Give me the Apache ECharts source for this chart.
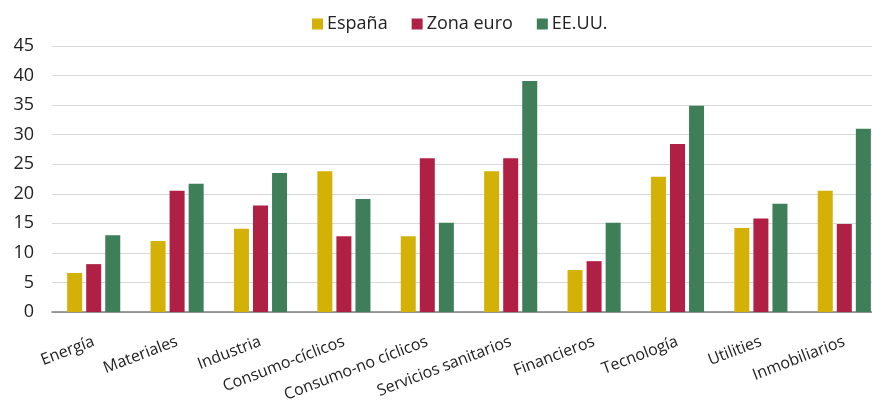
<!DOCTYPE html>
<html>
<head>
<meta charset="utf-8">
<script src="https://cdn.jsdelivr.net/npm/echarts@6/dist/echarts.min.js"></script>
<style>
  html, body { margin: 0; padding: 0; background: #fff; }
  #chart { width: 872px; height: 410px; }
</style>
</head>
<body>
<div id="chart"></div>
<script>
var categories = ['Energía', 'Materiales', 'Industria', 'Consumo-cíclicos', 'Consumo-no cíclicos',
  'Servicios sanitarios', 'Financieros', 'Tecnología', 'Utilities', 'Inmobiliarios']
var espana = [6.6, 12.0, 14.1, 23.8, 12.8, 23.8, 7.1, 22.9, 14.2, 20.5]
var zonaEuro = [8.1, 20.5, 18.0, 12.8, 26.0, 26.0, 8.6, 28.4, 15.8, 14.9]
var eeuu = [13.0, 21.7, 23.5, 19.1, 15.1, 39.1, 15.1, 34.9, 18.3, 31.0]

var font = '"Open Sans", "Noto Sans", sans-serif'
var chart = echarts.init(document.getElementById('chart'))

function barSeries(name, data, color) {
  return {
    name: name,
    type: 'bar',
    data: data,
    barWidth: 15,
    barGap: '27%',
    itemStyle: { color: color },
    animation: false
  }
}

chart.setOption({
  textStyle: { fontFamily: font },
  legend: {
    top: 10,
    left: 307,
    itemWidth: 11,
    itemHeight: 11,
    itemGap: 24,
    icon: 'rect',
    textStyle: { fontSize: 18, color: '#222', fontFamily: font, padding: [0, 0, 0, -1] }
  },
  // plot runs past the right edge in the original, so don't clamp it
  grid: {
    left: 52,
    width: 834,
    top: 46,
    bottom: 98,
    containLabel: false,
    outerBoundsMode: 'none'
  },
  xAxis: {
    type: 'category',
    data: categories,
    axisTick: { show: false },
    axisLine: { lineStyle: { color: '#7f7f7f', width: 1.5 } },
    axisLabel: {
      rotate: 21,
      interval: 0,
      margin: 29,
      fontSize: 16,
      color: '#222',
      fontFamily: font
    }
  },
  yAxis: {
    type: 'value',
    min: 0,
    max: 45,
    interval: 5,
    axisLabel: { fontSize: 18, color: '#222', margin: 18, fontFamily: font },
    splitLine: { lineStyle: { color: '#d9d9d9', width: 1 } }
  },
  series: [
    barSeries('España', espana, '#D4B106'),
    barSeries('Zona euro', zonaEuro, '#B02045'),
    barSeries('EE.UU.', eeuu, '#3E7E58')
  ]
})
</script>
</body>
</html>
